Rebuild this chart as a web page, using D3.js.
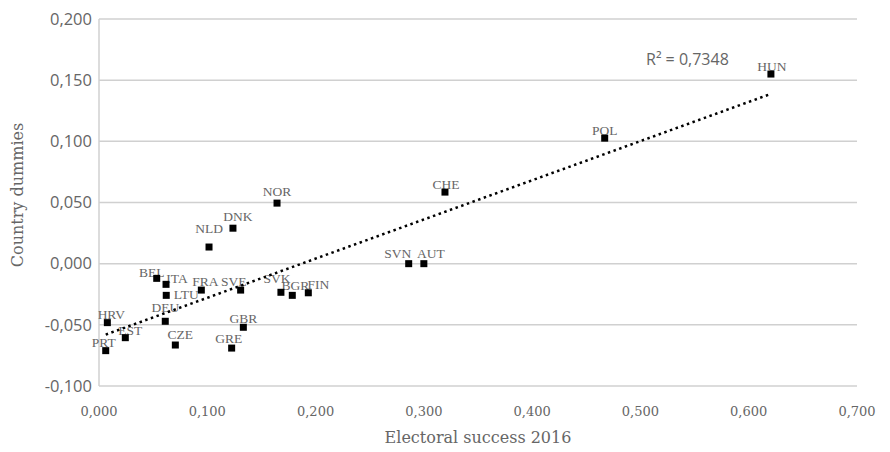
<!DOCTYPE html>
<meta charset="utf-8">
<style>
  body {
    margin: 0;
    background-color: white;
  }

  .grid line {
    stroke: #d0d0d0;
    stroke-width: 1.5;
  }

  .ytick text {
    font-family: "Open Sans", sans-serif;
    font-size: 16.5px;
    fill: #666;
  }

  .xtick text {
    font-family: "DejaVu Serif", serif;
    font-size: 13px;
    fill: #666;
  }

  .title {
    font-family: "DejaVu Serif", serif;
    font-size: 16px;
    fill: #666;
  }

  .label {
    font-family: "Liberation Serif", serif;
    font-size: 13.5px;
    fill: #666;
  }
</style>
<body>
  <div id="chart"></div>

  <script src="https://d3js.org/d3.v7.min.js"></script>
  <script>
    // Data
    const countries = ["HUN","POL","CHE","NOR","DNK","NLD","SVN","AUT","BEL","ITA","LTU","FRA",
                       "SVE","SVK","BGR","FIN","HRV","DEU","EST","PRT","CZE","GBR","GRE"];
    const electoralSuccess = [0.6205, 0.467, 0.3195, 0.1644, 0.1237, 0.1016, 0.286, 0.300, 0.0533, 0.0619, 0.0621, 0.0945,
                              0.1308, 0.168, 0.1785, 0.1933, 0.0077, 0.0612, 0.0243, 0.0062, 0.0705, 0.1333, 0.1225];
    const countryDummies = [0.155, 0.1026, 0.0585, 0.0495, 0.029, 0.0136, 0.000, 0.000, -0.012, -0.0169, -0.0259, -0.0216,
                            -0.0216, -0.0234, -0.0259, -0.0238, -0.0482, -0.0471, -0.0605, -0.0711, -0.0665, -0.052, -0.069];
    const xTicks = [0, 0.1, 0.2, 0.3, 0.4, 0.5, 0.6, 0.7];
    const yTicks = [-0.1, -0.05, 0, 0.05, 0.1, 0.15, 0.2];
    const rSquaredText = "R² = 0,7348";

    // label nudges (px) so the labels sit where they do in the original
    const labelNudge = {
      HUN: [1, -3], POL: [0, -3], CHE: [1, -3], NOR: [0, -7], DNK: [5, -7], NLD: [0, -14],
      SVN: [-11, -6], AUT: [7, -6], BEL: [-5, -1], ITA: [11, -1], LTU: [20, 4], FRA: [4, -4],
      SVE: [-7, -4], SVK: [-4, -9], BGR: [3, -5], FIN: [10, -4], HRV: [4, -4], DEU: [0, -9],
      EST: [5, -3], PRT: [-2, -4], CZE: [5, -6], GBR: [0, -4], GRE: [-3, -5]
    };

    const data = countries.map((c, i) => ({ name: c, x: electoralSuccess[i], y: countryDummies[i] }));

    const width = 890, height = 452;
    const margin = { top: 19, right: 33, bottom: 66, left: 99 };

    const svg = d3.select("#chart")
      .append("svg")
      .attr("width", width)
      .attr("height", height);

    const x = d3.scaleLinear()
      .domain([0, 0.7])
      .range([margin.left, width - margin.right]);

    const y = d3.scaleLinear()
      .domain([-0.1, 0.2])
      .range([height - margin.bottom, margin.top]);

    const fmt = d => d3.format(".3f")(d).replace(".", ",").replace("−", "-");

    // horizontal gridlines
    svg.append("g")
      .attr("class", "grid")
      .selectAll("line")
      .data(yTicks)
      .join("line")
      .attr("x1", x(0))
      .attr("x2", x(0.7))
      .attr("y1", d => y(d))
      .attr("y2", d => y(d));

    // y axis line
    svg.append("g")
      .attr("class", "grid")
      .append("line")
      .attr("x1", x(0)).attr("x2", x(0))
      .attr("y1", y(-0.1)).attr("y2", y(0.2));

    // y tick labels
    svg.append("g")
      .attr("class", "ytick")
      .selectAll("text")
      .data(yTicks)
      .join("text")
      .attr("x", x(0) - 7)
      .attr("y", d => y(d))
      .attr("dy", "0.35em")
      .attr("text-anchor", "end")
      .text(fmt);

    // x tick labels
    svg.append("g")
      .attr("class", "xtick")
      .selectAll("text")
      .data(xTicks)
      .join("text")
      .attr("x", d => x(d))
      .attr("y", y(-0.1) + 30)
      .attr("text-anchor", "middle")
      .text(fmt);

    // axis titles
    svg.append("text")
      .attr("class", "title")
      .attr("x", (x(0) + x(0.7)) / 2)
      .attr("y", 443)
      .attr("text-anchor", "middle")
      .text("Electoral success 2016");

    svg.append("text")
      .attr("class", "title")
      .attr("transform", `translate(23,195) rotate(-90)`)
      .attr("text-anchor", "middle")
      .text("Country dummies");

    // linear trendline (least squares)
    const mx = d3.mean(data, d => d.x), my = d3.mean(data, d => d.y);
    const slope = d3.sum(data, d => (d.x - mx) * (d.y - my)) / d3.sum(data, d => (d.x - mx) ** 2);
    const intercept = my - slope * mx;
    const [x0, x1] = d3.extent(data, d => d.x);

    // point labels
    svg.append("g")
      .selectAll("text")
      .data(data)
      .join("text")
      .attr("class", "label")
      .attr("x", d => x(d.x) + labelNudge[d.name][0])
      .attr("y", d => y(d.y) + labelNudge[d.name][1])
      .attr("text-anchor", "middle")
      .text(d => d.name);

    svg.append("line")
      .attr("x1", x(x0)).attr("y1", y(intercept + slope * x0))
      .attr("x2", x(x1)).attr("y2", y(intercept + slope * x1))
      .attr("stroke", "#000")
      .attr("stroke-width", 2.5)
      .attr("stroke-dasharray", "2.5 3.5");

    // markers
    const s = 7;
    svg.append("g")
      .selectAll("rect")
      .data(data)
      .join("rect")
      .attr("x", d => x(d.x) - s / 2)
      .attr("y", d => y(d.y) - s / 2)
      .attr("width", s)
      .attr("height", s)
      .attr("fill", "#000");

    // R² label
    svg.append("text")
      .attr("x", 646)
      .attr("y", 65)
      .style("font-family", "'Open Sans', sans-serif")
      .style("font-size", "16px")
      .style("fill", "#666")
      .text(rSquaredText);
  </script>
</body>
</html>
